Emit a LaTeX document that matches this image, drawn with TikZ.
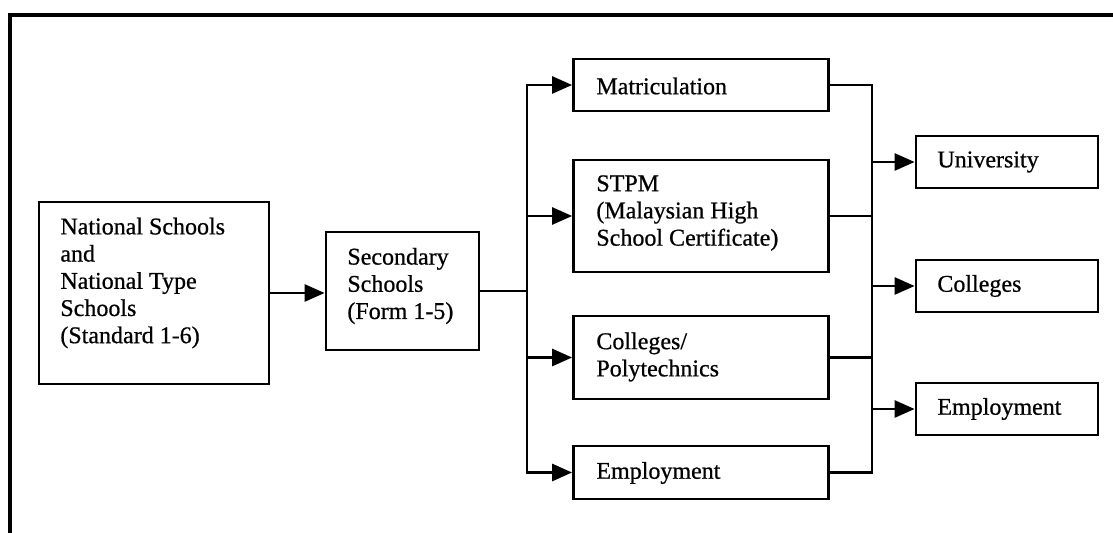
\documentclass[tikz,border=0pt]{standalone}
\usepackage{fontspec}
\setmainfont[UprightFeatures={FakeBold=0.7}]{Liberation Serif}
\usetikzlibrary{arrows.meta}

\begin{document}
\begin{tikzpicture}[x=0.5pt, y=-0.5pt,
		box/.style={draw, line width=1.4pt, inner sep=0pt},
		txt/.style={anchor=west, inner sep=0pt, align=left, font=\fontsize{12}{13.6}\selectfont},
		link/.style={line width=1.4pt, line cap=rect},
		flow/.style={line width=1.4pt, -{Triangle[length=10pt, width=8.5pt]}}]
		\useasboundingbox (0,0) rectangle (1113,533);
		\draw[line width=1.6pt] (10,533) -- (10,15) -- (1113,15);
		% boxes
		\node[box, minimum width=115pt, minimum height=91pt] (nat) at (154,293) {};
		\node[box, minimum width=76.5pt, minimum height=59pt] (sec) at (402.5,291) {};
		\node[box, minimum width=127.5pt, minimum height=26pt] (mat) at (701,85) {};
		\node[box, minimum width=127.5pt, minimum height=56pt] (stpm) at (701,216) {};
		\node[box, minimum width=127.5pt, minimum height=41.5pt] (poly) at (701,357.5) {};
		\node[box, minimum width=127.5pt, minimum height=26.5pt] (emp) at (701,472.5) {};
		\node[box, minimum width=91pt, minimum height=26pt] (uni) at (1007,162) {};
		\node[box, minimum width=91pt, minimum height=26pt] (col) at (1007,286) {};
		\node[box, minimum width=91pt, minimum height=26pt] (empR) at (1007,409) {};
		% texts
		\node[txt] (natT) at (60,283) {National Schools\\and\\National Type\\Schools\\(Standard 1-6)};
		\node[txt] (secT) at (347,286) {Secondary\\Schools\\(Form 1-5)};
		\node[txt] (matT) at (596,86) {Matriculation};
		\node[txt] (stpmT) at (596,213) {STPM\\(Malaysian High\\School Certificate)};
		\node[txt] (polyT) at (596,357) {Colleges/\\Polytechnics};
		\node[txt] (empT) at (596,473) {Employment};
		\node[txt] (uniT) at (937,162) {University};
		\node[txt] (colT) at (937,286) {Colleges};
		\node[txt] (empRT) at (937,409) {Employment};
		% connectors
		\coordinate (bl) at (527,0);
		\coordinate (br) at (872,0);
		\draw[flow] (nat.east) -- (nat.east -| sec.west);
		\draw[link] (sec.east) -- (sec.east -| bl);
		\draw[link] (bl |- mat.west) -- (bl |- emp.west);
		\foreach \n in {mat,stpm,poly,emp} \draw[flow] (bl |- \n.west) -- (\n.west);
		\foreach \n in {mat,stpm,poly,emp} \draw[link] (\n.east) -- (\n.east -| br);
		\draw[link] (br |- mat.east) -- (br |- emp.east);
		\foreach \n in {uni,col,empR} \draw[flow] (br |- \n.west) -- (\n.west);
\end{tikzpicture}
\end{document}
